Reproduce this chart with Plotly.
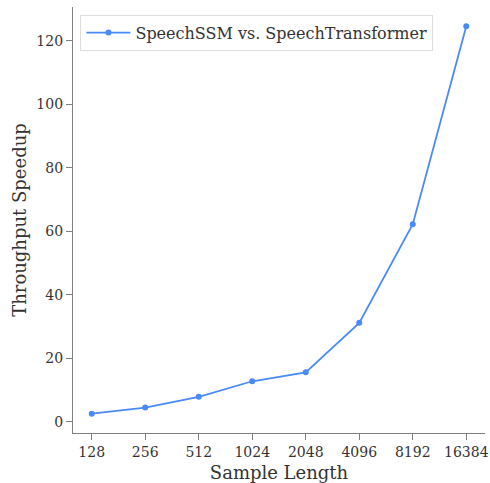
import plotly.graph_objects as go

sample_lengths = ["128", "256", "512", "1024", "2048", "4096", "8192", "16384"]
speedup = [2.6, 4.5, 7.9, 12.8, 15.6, 31.2, 62.3, 124.6]
y_ticks = [0, 20, 40, 60, 80, 100, 120]

W, H = 490, 483
L, R, T, B = 73, 5, 7, 50

fig = go.Figure()
fig.add_trace(go.Scatter(
    x=list(range(len(sample_lengths))), y=speedup,
    mode="lines+markers",
    name="SpeechSSM vs. SpeechTransformer",
    line=dict(color="#4a8af8", width=1.8),
    marker=dict(size=6, color="#4a8af8"),
))

font = "DejaVu Serif"
fig.update_layout(
    width=W, height=H,
    margin=dict(l=L, r=R, t=T, b=B),
    paper_bgcolor="white", plot_bgcolor="white",
    font=dict(family=font, color="#333333", size=14),
    showlegend=True,
    legend=dict(
        x=0.018, y=0.982, xanchor="left", yanchor="top",
        bordercolor="#dddddd", borderwidth=1, bgcolor="rgba(255,255,255,0.8)",
        font=dict(family=font, size=16, color="#333333"),
        itemwidth=44,
    ),
    xaxis=dict(
        range=[-0.35, 7.35], automargin=False,
        tickmode="array", tickvals=list(range(len(sample_lengths))), ticktext=sample_lengths,
        showgrid=False, zeroline=False,
        showline=True, linecolor="#808080", linewidth=1.3,
        ticks="outside", ticklen=6, tickcolor="#808080", tickwidth=1.2,
        tickfont=dict(family=font, size=14, color="#333333"),
        title=dict(text="Sample Length", font=dict(family=font, size=18, color="#333333"), standoff=7),
    ),
    yaxis=dict(
        range=[-3.5, 130.7], automargin=False,
        tickmode="array", tickvals=y_ticks,
        showgrid=False, zeroline=False,
        showline=True, linecolor="#808080", linewidth=1.3,
        ticks="outside", ticklen=6, tickcolor="#808080", tickwidth=1.2,
        tickfont=dict(family=font, size=14, color="#333333"),
        title=dict(text="Throughput Speedup", font=dict(family=font, size=18, color="#333333"), standoff=5),
    ),
)

fig.write_html("out.html", config={"displayModeBar": False},
               post_script="document.body.style.margin='0';document.body.style.padding='0';")
